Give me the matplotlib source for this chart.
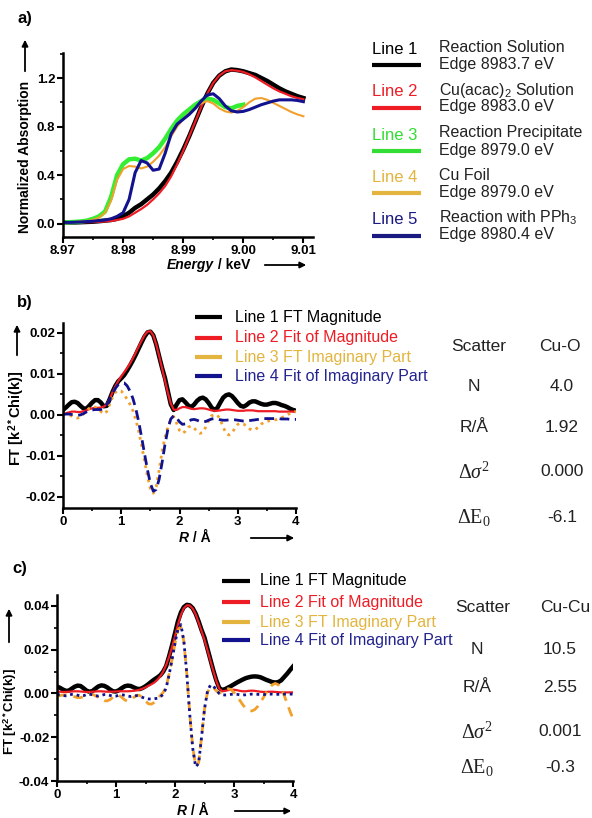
import numpy as np
import matplotlib
matplotlib.use('Agg')
from matplotlib import pyplot as plt
from matplotlib.ticker import MultipleLocator
from matplotlib.lines import Line2D
from matplotlib.patches import FancyArrowPatch

plt.rcParams['font.family'] = ['Liberation Sans', 'DejaVu Sans']
plt.rcParams['mathtext.fontset'] = 'custom'
plt.rcParams['mathtext.rm'] = 'Liberation Serif'
plt.rcParams['mathtext.it'] = 'Liberation Serif:italic'
plt.rcParams['mathtext.bf'] = 'Liberation Sans:bold'
plt.rcParams['mathtext.sf'] = 'Liberation Sans'

# ---------- a) XANES ----------
energy = [8.970, 8.971, 8.972, 8.973, 8.974, 8.975, 8.976, 8.977, 8.978, 8.979,
          8.980, 8.981, 8.982, 8.983, 8.984, 8.985, 8.986, 8.987, 8.988, 8.989,
          8.990, 8.991, 8.992, 8.993, 8.994, 8.995, 8.996, 8.997, 8.998, 8.999,
          9.000, 9.001, 9.002, 9.003, 9.004, 9.005, 9.006, 9.007, 9.008, 9.009,
          9.010]
a_line1 = [0.01, 0.01, 0.01, 0.012, 0.014, 0.016, 0.02, 0.025, 0.03, 0.04,
           0.06, 0.09, 0.13, 0.16, 0.2, 0.24, 0.29, 0.35, 0.42, 0.51,
           0.61, 0.72, 0.84, 0.96, 1.07, 1.16, 1.22, 1.255, 1.27, 1.265,
           1.255, 1.24, 1.225, 1.2, 1.175, 1.145, 1.115, 1.09, 1.07, 1.05,
           1.035]
a_line2 = [0.01, 0.01, 0.01, 0.011, 0.012, 0.013, 0.015, 0.018, 0.022, 0.03,
           0.04, 0.06, 0.09, 0.12, 0.155, 0.2, 0.25, 0.31, 0.39, 0.49,
           0.6, 0.72, 0.84, 0.96, 1.07, 1.16, 1.22, 1.255, 1.265, 1.26,
           1.25, 1.23, 1.205, 1.175, 1.145, 1.115, 1.09, 1.07, 1.05, 1.035,
           1.025]
a_line3 = [0.01, 0.012, 0.014, 0.018, 0.025, 0.04, 0.06, 0.1, 0.22, 0.4,
           0.49, 0.53, 0.535, 0.52, 0.54, 0.58, 0.63, 0.7, 0.78, 0.85,
           0.9, 0.94, 0.98, 1.01, 1.03, 1.02, 0.99, 0.96, 0.95, 0.97,
           0.98]
a_line4 = [0.01, 0.012, 0.014, 0.017, 0.022, 0.032, 0.05, 0.09, 0.19, 0.36,
           0.45, 0.475, 0.47, 0.455, 0.47, 0.51, 0.56, 0.63, 0.72, 0.8,
           0.86, 0.91, 0.95, 0.99, 1.01, 0.99, 0.95, 0.925, 0.915, 0.93,
           0.96, 1.0, 1.03, 1.035, 1.02, 0.995, 0.97, 0.945, 0.92, 0.9,
           0.885]
a_line5 = [0.01, 0.01, 0.012, 0.014, 0.017, 0.02, 0.025, 0.03, 0.04, 0.06,
           0.09, 0.2, 0.42, 0.52, 0.5, 0.44, 0.45, 0.58, 0.74, 0.82,
           0.86, 0.9, 0.95, 1.01, 1.06, 1.07, 1.03, 0.97, 0.93, 0.92,
           0.925, 0.94, 0.96, 0.98, 0.995, 1.01, 1.02, 1.02, 1.02, 1.015,
           1.005]
a_labels = ['Line 1', 'Line 2', 'Line 3', 'Line 4', 'Line 5']
a_desc1 = ['Reaction Solution', r'Cu(acac)$_\mathsf{2}$ Solution', 'Reaction Precipitate',
           'Cu Foil', r'Reaction with PPh$_\mathsf{3}$']
a_desc2 = ['Edge 8983.7 eV', 'Edge 8983.0 eV', 'Edge 8979.0 eV', 'Edge 8979.0 eV',
           'Edge 8980.4 eV']

# ---------- b), c) FT ----------
r = np.round(np.arange(0, 81) * 0.05, 2)
b_line1 = [0.0012, 0.0018, 0.0025, 0.0031, 0.0032, 0.0029, 0.0022, 0.0016, 0.0015, 0.0022,
           0.0030, 0.0036, 0.0036, 0.0030, 0.0021, 0.0022, 0.0038, 0.0056, 0.0071, 0.0082,
           0.0089, 0.0097, 0.0108, 0.0120, 0.0133, 0.0147, 0.0162, 0.0177, 0.0191, 0.0201,
           0.0203, 0.0194, 0.0172, 0.0143, 0.0115, 0.0090, 0.0058, 0.0026, 0.0012, 0.0025,
           0.0036, 0.0038, 0.0031, 0.0023, 0.0019, 0.0025, 0.0034, 0.0040, 0.0042, 0.0038,
           0.0029, 0.0018, 0.0012, 0.0017, 0.0030, 0.0042, 0.0048, 0.0050, 0.0046, 0.0038,
           0.0029, 0.0022, 0.0020, 0.0024, 0.0030, 0.0033, 0.0033, 0.0030, 0.0027, 0.0025,
           0.0025, 0.0027, 0.0029, 0.0029, 0.0027, 0.0024, 0.0022, 0.0019, 0.0015, 0.0012,
           0.0010]
b_line2 = [0.0003, 0.0004, 0.0006, 0.0008, 0.0008, 0.0007, 0.0007, 0.0009, 0.0011, 0.0014,
           0.0016, 0.0017, 0.0017, 0.0018, 0.0020, 0.0026, 0.0038, 0.0055, 0.0070, 0.0083,
           0.0094, 0.0104, 0.0114, 0.0125, 0.0138, 0.0152, 0.0167, 0.0181, 0.0194, 0.0203,
           0.0204, 0.0194, 0.0172, 0.0144, 0.0114, 0.0084, 0.0054, 0.0028, 0.0013, 0.0012,
           0.0016, 0.0019, 0.0019, 0.0017, 0.0015, 0.0014, 0.0015, 0.0016, 0.0016, 0.0015,
           0.0013, 0.0011, 0.0010, 0.0010, 0.0011, 0.0012, 0.0013, 0.0013, 0.0012, 0.0011,
           0.0010, 0.0010, 0.0010, 0.0011, 0.0011, 0.0011, 0.0010, 0.0009, 0.0009, 0.0009,
           0.0009, 0.0009, 0.0009, 0.0009, 0.0008, 0.0008, 0.0008, 0.0008, 0.0008, 0.0008,
           0.0008]
b_line3 = [0.0004, 0.0003, 0.0001, -0.0003, -0.0006, -0.0008, -0.0005, 0.0002, 0.0010, 0.0016,
           0.0019, 0.0019, 0.0015, 0.0008, 0.0002, 0.0008, 0.0025, 0.0043, 0.0055, 0.0060,
           0.0058, 0.0050, 0.0038, 0.0026, 0.0010, -0.0012, -0.0040, -0.0075, -0.0112, -0.0150,
           -0.0180, -0.0191, -0.0175, -0.0135, -0.0090, -0.0055, -0.0030, -0.0010, -0.0004, -0.0020,
           -0.0038, -0.0045, -0.0040, -0.0030, -0.0027, -0.0032, -0.0040, -0.0045, -0.0043, -0.0030,
           -0.0014, -0.0002, 0.0000, 0.0000, -0.0012, -0.0030, -0.0045, -0.0049, -0.0044, -0.0033,
           -0.0023, -0.0020, -0.0022, -0.0028, -0.0034, -0.0037, -0.0036, -0.0030, -0.0023, -0.0018,
           -0.0016, -0.0014, -0.0013, -0.0012, -0.0010, -0.0007, -0.0004, 0.0000, 0.0004, 0.0007,
           0.0008]
b_line4 = [0.0001, 0.0002, 0.0002, 0.0001, 0.0000, -0.0001, 0.0000, 0.0003, 0.0007, 0.0010,
           0.0012, 0.0013, 0.0013, 0.0013, 0.0016, 0.0024, 0.0037, 0.0052, 0.0065, 0.0074,
           0.0078, 0.0078, 0.0071, 0.0058, 0.0040, 0.0015, -0.0017, -0.0055, -0.0095, -0.0134,
           -0.0167, -0.0186, -0.0182, -0.0157, -0.0117, -0.0073, -0.0035, -0.0010, -0.0002, -0.0007,
           -0.0017, -0.0023, -0.0022, -0.0017, -0.0012, -0.0011, -0.0013, -0.0016, -0.0017, -0.0016,
           -0.0013, -0.0010, -0.0009, -0.0010, -0.0012, -0.0013, -0.0013, -0.0012, -0.0012, -0.0012,
           -0.0013, -0.0014, -0.0015, -0.0015, -0.0014, -0.0013, -0.0012, -0.0011, -0.0010, -0.0009,
           -0.0009, -0.0009, -0.0009, -0.0009, -0.0009, -0.0010, -0.0010, -0.0010, -0.0011, -0.0011,
           -0.0011]

c_line1 = [0.0031, 0.0026, 0.0018, 0.0012, 0.0013, 0.0022, 0.0031, 0.0036, 0.0034, 0.0024,
           0.0013, 0.0008, 0.0011, 0.0022, 0.0032, 0.0037, 0.0035, 0.0028, 0.0018, 0.0010,
           0.0009, 0.0015, 0.0025, 0.0033, 0.0036, 0.0034, 0.0028, 0.0022, 0.0020, 0.0025,
           0.0033, 0.0043, 0.0054, 0.0064, 0.0073, 0.0083, 0.0100, 0.0125, 0.0170, 0.0220,
           0.0275, 0.0330, 0.0370, 0.0395, 0.0405, 0.0403, 0.0390, 0.0365, 0.0330, 0.0290,
           0.0255, 0.0205, 0.0155, 0.0105, 0.0060, 0.0025, 0.0016, 0.0020, 0.0027, 0.0034,
           0.0042, 0.0050, 0.0057, 0.0064, 0.0070, 0.0074, 0.0077, 0.0078, 0.0077, 0.0074,
           0.0068, 0.0062, 0.0057, 0.0052, 0.0050, 0.0052, 0.0060, 0.0075, 0.0090, 0.0107,
           0.0123]
c_line2 = [0.0008, 0.0008, 0.0007, 0.0007, 0.0008, 0.0009, 0.0010, 0.0010, 0.0009, 0.0008,
           0.0007, 0.0007, 0.0008, 0.0009, 0.0010, 0.0010, 0.0009, 0.0008, 0.0008, 0.0008,
           0.0009, 0.0010, 0.0010, 0.0010, 0.0010, 0.0011, 0.0012, 0.0014, 0.0017, 0.0022,
           0.0028, 0.0035, 0.0042, 0.0050, 0.0062, 0.0078, 0.0100, 0.0130, 0.0168, 0.0212,
           0.0262, 0.0315, 0.0360, 0.0390, 0.0403, 0.0402, 0.0388, 0.0362, 0.0325, 0.0285,
           0.0245, 0.0198, 0.0150, 0.0102, 0.0057, 0.0022, 0.0010, 0.0012, 0.0015, 0.0017,
           0.0017, 0.0015, 0.0012, 0.0010, 0.0010, 0.0012, 0.0013, 0.0012, 0.0010, 0.0008,
           0.0007, 0.0007, 0.0008, 0.0008, 0.0007, 0.0006, 0.0005, 0.0005, 0.0005, 0.0005,
           0.0005]
c_line3 = [-0.0012, -0.0010, -0.0007, -0.0006, -0.0008, -0.0011, -0.0015, -0.0019, -0.0019, -0.0014,
           -0.0007, -0.0003, -0.0004, -0.0010, -0.0018, -0.0027, -0.0033, -0.0034, -0.0028, -0.0017,
           -0.0008, -0.0008, -0.0018, -0.0030, -0.0035, -0.0030, -0.0018, -0.0008, -0.0009, -0.0020,
           -0.0035, -0.0047, -0.0049, -0.0040, -0.0025, -0.0010, 0.0005, 0.0032, 0.0088, 0.0155,
           0.0228, 0.0290, 0.0305, 0.0238, 0.0090, -0.0092, -0.0245, -0.0330, -0.0318, -0.0200,
           -0.0072, 0.0005, 0.0030, 0.0028, 0.0012, 0.0002, 0.0004, 0.0015, 0.0022, 0.0018,
           0.0005, -0.0012, -0.0032, -0.0052, -0.0068, -0.0078, -0.0080, -0.0074, -0.0060, -0.0040,
           -0.0018, 0.0005, 0.0025, 0.0040, 0.0046, 0.0040, 0.0022, -0.0008, -0.0045, -0.0082,
           -0.0115]
c_line4 = [-0.0005, -0.0006, -0.0009, -0.0011, -0.0008, -0.0004, -0.0004, -0.0008, -0.0012, -0.0010,
           -0.0005, -0.0003, -0.0006, -0.0010, -0.0012, -0.0009, -0.0005, -0.0005, -0.0009, -0.0013,
           -0.0012, -0.0008, -0.0006, -0.0008, -0.0012, -0.0014, -0.0012, -0.0010, -0.0012, -0.0018,
           -0.0023, -0.0025, -0.0025, -0.0024, -0.0022, -0.0016, -0.0004, 0.0025, 0.0085, 0.0155,
           0.0230, 0.0295, 0.0315, 0.0240, 0.0090, -0.0095, -0.0250, -0.0335, -0.0320, -0.0200,
           -0.0070, 0.0010, 0.0038, 0.0035, 0.0015, 0.0000, -0.0006, -0.0007, -0.0006, -0.0004,
           -0.0003, -0.0004, -0.0006, -0.0007, -0.0006, -0.0004, -0.0003, -0.0003, -0.0004, -0.0005,
           -0.0005, -0.0004, -0.0003, -0.0003, -0.0004, -0.0004, -0.0004, -0.0003, -0.0003, -0.0003,
           -0.0003]
ft_labels = ['Line 1 FT Magnitude', 'Line 2 Fit of Magnitude',
             'Line 3 FT Imaginary Part', 'Line 4 Fit of Imaginary Part']
tab_rows = ['N', 'R/Å', r'$\Delta\sigma^{2}$', r'$\Delta\mathrm{E}_{0}$']
b_vals = ['4.0', '1.92', '0.000', '-6.1']
c_vals = ['10.5', '2.55', '0.001', '-0.3']

BLACK = '#000000'
RED = '#ee1c24'
GREEN = '#33ee33'
ORANGE = '#f2a02c'
GOLD = '#e3b53e'
BLUE = '#12128f'
TXT = '#222222'

W, H = 592, 818
fig = plt.figure(figsize=(W / 100, H / 100), dpi=100)


def fx(x):
    return x / W


def fy(y):
    return 1 - y / H


def txt(x, y, s, **kw):
    kw.setdefault('va', 'center')
    fig.text(fx(x), fy(y), s, **kw)


def arrow(x0, y0, x1, y1):
    fig.add_artist(FancyArrowPatch((fx(x0), fy(y0)), (fx(x1), fy(y1)),
                                   transform=fig.transFigure, arrowstyle='-|>',
                                   mutation_scale=9, lw=1.3, color='k'))


def seg(x0, x1, y, color, lw=3, ls='-'):
    fig.add_artist(Line2D([fx(x0), fx(x1)], [fy(y), fy(y)], transform=fig.transFigure,
                          color=color, lw=lw, ls=ls, solid_capstyle='butt'))


def make_ax(l, r_, t, b):
    ax = fig.add_axes([fx(l), fy(b), fx(r_) - fx(l), fy(t) - fy(b)])
    for s in ['top', 'right']:
        ax.spines[s].set_visible(False)
    for s in ['left', 'bottom']:
        ax.spines[s].set_linewidth(1.8)
    ax.tick_params(which='major', length=4, width=1.5, direction='out', pad=1.5)
    ax.tick_params(which='minor', length=2.5, width=1.2, direction='out')
    return ax


# a)
ax1 = make_ax(63, 313, 53, 237)
ax1.plot(energy, a_line1, color=BLACK, lw=3.2)
ax1.plot(energy, a_line2, color=RED, lw=1.6)
ax1.plot(energy[:len(a_line3)], a_line3, color=GREEN, lw=3.2)
ax1.plot(energy, a_line4, color=ORANGE, lw=1.5)
ax1.plot(energy, a_line5, color=BLUE, lw=2.2)
ax1.set_xlim(8.97, 9.0116)
ax1.set_ylim(-0.11, 1.406)
ax1.xaxis.set_minor_locator(MultipleLocator(0.005))
ax1.yaxis.set_minor_locator(MultipleLocator(0.2))
ax1.set_xticks([8.97, 8.98, 8.99, 9.00, 9.01])
ax1.set_xticklabels(['8.97', '8.98', '8.99', '9.00', '9.01'])
ax1.set_yticks([0.0, 0.4, 0.8, 1.2])
ax1.set_yticklabels(['0.0', '0.4', '0.8', '1.2'])
for lab in ax1.get_xticklabels() + ax1.get_yticklabels():
    lab.set_fontweight('bold')
    lab.set_fontsize(9.5)

txt(17, 19, 'a)', fontsize=12, fontweight='bold')
txt(25, 157, 'Normalized Absorption', rotation=90, ha='center', fontsize=10, fontweight='bold')
arrow(25, 74, 25, 37)
txt(214, 265, 'Energy', ha='right', fontsize=10, fontweight='bold', style='italic')
txt(214, 265, ' / keV', ha='left', fontsize=10, fontweight='bold')
arrow(262, 265, 309, 265)

a_cols = [BLACK, RED, '#33dd33', GOLD, '#1a1a80']
row_y = [49, 92, 135, 177, 220]
for i in range(5):
    y = row_y[i]
    txt(372, y, a_labels[i], color=a_cols[i], fontsize=12)
    seg(372, 421, y + 16, a_cols[i], lw=3)
    txt(439, y - 2, a_desc1[i], color=TXT, fontsize=11.5)
    txt(439, y + 15, a_desc2[i], color=TXT, fontsize=11.5)

# b)
ax2 = make_ax(63, 296, 323, 508)
ax2.plot(r, b_line1, color=BLACK, lw=3.2)
ax2.plot(r, b_line2, color=RED, lw=1.6)
ax2.plot(r, b_line3, color=ORANGE, lw=2, ls=(0, (1, 1.6)))
ax2.plot(r, b_line4, color=BLUE, lw=2, ls=(0, (3.5, 2)))
ax2.set_xlim(0, 4)
ax2.set_ylim(-0.0227, 0.0224)
ax2.xaxis.set_major_locator(MultipleLocator(1))
ax2.xaxis.set_minor_locator(MultipleLocator(0.5))
ax2.set_yticks([-0.02, -0.01, 0.0, 0.01, 0.02])
ax2.set_yticklabels(['-0.02', '-0.01', '0.00', '0.01', '0.02'])
ax2.yaxis.set_minor_locator(MultipleLocator(0.005))
for lab in ax2.get_xticklabels() + ax2.get_yticklabels():
    lab.set_fontweight('bold')
    lab.set_fontsize(9.5)

txt(17, 303, 'b)', fontsize=12, fontweight='bold')
txt(17, 418, r'FT [k$^{\mathbf{2*}}$Chi(k)]', rotation=90, ha='center',
    fontsize=10.5, fontweight='bold')
arrow(17, 358, 17, 322)
txt(189, 538, 'R', ha='right', fontsize=10, fontweight='bold', style='italic')
txt(189, 538, ' / Å', ha='left', fontsize=10, fontweight='bold')
arrow(248, 538, 297, 538)

ft_cols = [BLACK, RED, GOLD, '#23238f']
ft_line_cols = [BLACK, RED, GOLD, BLUE]
b_rows = [317, 338, 357, 376]
for i in range(4):
    seg(195, 222, b_rows[i], ft_line_cols[i], lw=3)
    txt(235, b_rows[i], ft_labels[i], color=ft_cols[i], fontsize=11.5)

txt(479, 347, 'Scatter', ha='center', fontsize=12.5, color=TXT)
txt(560, 347, 'Cu-O', ha='center', fontsize=12.5, color=TXT)
b_tab_y = [387, 427, 472, 517]
for i in range(4):
    fs = 12.5 if i < 2 else 14.5
    txt(474, b_tab_y[i], tab_rows[i], ha='center', fontsize=fs, color=TXT)
    txt(562, b_tab_y[i], b_vals[i], ha='center', fontsize=12.5, color=TXT)

# c)
ax3 = make_ax(57, 293, 595, 781)
ax3.plot(r, c_line1, color=BLACK, lw=3.2)
ax3.plot(r, c_line2, color=RED, lw=1.6)
ax3.plot(r, c_line3, color=ORANGE, lw=2, ls=(0, (3.5, 2.5)))
ax3.plot(r, c_line4, color=BLUE, lw=2, ls=(0, (1, 1.4)))
ax3.set_xlim(0, 4)
ax3.set_ylim(-0.04, 0.045)
ax3.xaxis.set_major_locator(MultipleLocator(1))
ax3.xaxis.set_minor_locator(MultipleLocator(0.5))
ax3.set_yticks([-0.04, -0.02, 0.0, 0.02, 0.04])
ax3.set_yticklabels(['-0.04', '-0.02', '0.00', '0.02', '0.04'])
ax3.yaxis.set_minor_locator(MultipleLocator(0.01))
for lab in ax3.get_xticklabels() + ax3.get_yticklabels():
    lab.set_fontweight('bold')
    lab.set_fontsize(9.5)

txt(12, 569, 'c)', fontsize=12, fontweight='bold')
txt(10, 712, r'FT [k$^{\mathbf{2*}}$Chi(k)]', rotation=90, ha='center',
    fontsize=9.5, fontweight='bold')
arrow(9, 645, 9, 606)
txt(187, 811, 'R', ha='right', fontsize=10, fontweight='bold', style='italic')
txt(187, 811, ' / Å', ha='left', fontsize=10, fontweight='bold')
arrow(232, 811, 294, 811)

c_rows = [581, 602, 622, 640]
for i in range(4):
    seg(222, 250, c_rows[i], ft_line_cols[i], lw=3)
    txt(260, c_rows[i], ft_labels[i], color=ft_cols[i], fontsize=11.5)

txt(483, 608, 'Scatter', ha='center', fontsize=12.5, color=TXT)
txt(540, 608, 'Cu-Cu', ha='left', fontsize=12.5, color=TXT)
c_tab_y = [650, 687, 732, 767]
for i in range(4):
    fs = 12.5 if i < 2 else 14.5
    txt(477, c_tab_y[i], tab_rows[i], ha='center', fontsize=fs, color=TXT)
    txt(560, c_tab_y[i], c_vals[i], ha='center', fontsize=12.5, color=TXT)

fig.savefig('out.png', dpi=100)
